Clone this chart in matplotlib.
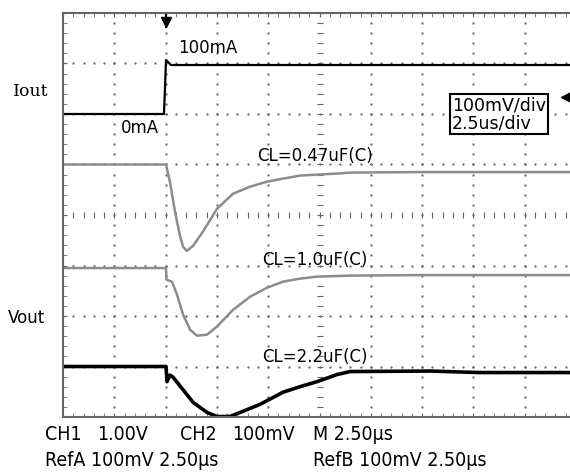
import numpy as np
import matplotlib
matplotlib.use("Agg")
import matplotlib.pyplot as plt

# Scope settings: 2.5 us/div horizontally, 100 mV/div (100 mA/div) vertically
t_per_div = 2.5
mv_per_div = 100

# Iout step (mA)
t_iout = [0, 4.92, 4.97, 5.02, 5.12, 5.26, 25]
iout_ma = [0, 0, 51, 107, 103, 97, 97]

# Vout deviation (mV) for three output capacitors
t_047 = [0, 5.02, 5.21, 5.46, 5.70, 5.85, 6.04, 6.34, 6.82, 7.50, 8.28, 9.11,
         9.94, 10.72, 11.55, 12.38, 13.35, 13.99, 17.4, 25]
v_047 = [0, 0, -34, -94, -141, -163, -171, -161, -133, -88, -58, -44,
         -34, -28, -22, -20, -18, -16, -15, -15]

t_10 = [0, 5.02, 5.04, 5.31, 5.56, 5.85, 6.19, 6.53, 7.02, 7.50, 8.28, 9.11,
        9.94, 10.72, 11.55, 12.38, 13.99, 17.4, 25]
v_10 = [0, 0, -23, -27, -53, -92, -122, -134, -132, -116, -83, -57,
        -39, -27, -21, -17, -15, -14, -14]

t_22 = [0, 5.02, 5.07, 5.21, 5.36, 5.85, 6.34, 7.02, 7.50, 8.14, 8.63, 9.60,
        10.72, 11.55, 12.38, 13.35, 13.99, 17.9, 20.3, 25]
v_22 = [0, 0, -30, -17, -21, -46, -71, -91, -99, -99, -91, -75,
        -51, -40, -30, -16, -10, -9, -12, -12]

cap_labels = ["CL=0.47uF(C)", "CL=1.0uF(C)", "CL=2.2uF(C)"]
bottom_row1 = ["CH1", "1.00V", "CH2", "100mV", "M 2.50\u00b5s"]
bottom_row2 = ["RefA 100mV 2.50\u00b5s", "RefB 100mV 2.50\u00b5s"]

W, H = 570, 472
fig = plt.figure(figsize=(W / 100, H / 100), dpi=100)
ax = fig.add_axes([63 / W, 55 / H, 513 / W, 404 / H])
ax.set_xlim(0, 10 * t_per_div)
ax.set_ylim(0, 8)

# graticule: dotted division lines
sub = np.arange(0, 8.01, 0.2)
subx = np.arange(0, 25.01, 0.5)
for i in range(1, 10):
    if i == 5:
        continue
    ax.plot(np.full_like(sub, i * t_per_div), sub, ls="none", marker=".", ms=1.3, color="#666")
for j in range(1, 8):
    if j == 4:
        continue
    ax.plot(subx, np.full_like(subx, j), ls="none", marker=".", ms=1.3, color="#666")
# centre axes with fine ticks
ax.plot(subx, np.full_like(subx, 4), ls="none", marker="|", ms=4, mew=0.8, color="#666")
ax.plot(np.full_like(sub, 12.5), sub, ls="none", marker="_", ms=4, mew=0.8, color="#666")

for s in ax.spines.values():
    s.set_color("#666")
    s.set_linewidth(1.5)
ax.set_xticks(subx, minor=True)
ax.set_yticks(sub, minor=True)
ax.set_xticks(np.arange(0, 25.01, 2.5))
ax.set_yticks(range(9))
ax.tick_params(which="both", direction="in", length=3, color="#666",
               top=True, right=True, labelbottom=False, labelleft=False)

# traces
ax.plot(t_iout, 6 + np.array(iout_ma) / mv_per_div, color="black", lw=1.6)
ax.plot(t_047, 5.0 + np.array(v_047) / mv_per_div, color="#8c8c8c", lw=1.8)
ax.plot(t_10, 2.95 + np.array(v_10) / mv_per_div, color="#8c8c8c", lw=1.8)
ax.plot(t_22, 1.0 + np.array(v_22) / mv_per_div, color="black", lw=2.6)

# trigger and level markers
ax.plot([5.02, 5.02], [8, 7.72], color="black", lw=1.5, clip_on=False)
ax.plot([5.02], [7.83], marker="v", ms=7, color="black", clip_on=False)
ax.plot([24.5], [6.34], marker="<", ms=7, color="black", clip_on=False)

lab = dict(fontsize=12, va="center", ha="left", family="DejaVu Sans")
ax.text(5.6, 7.31, "100mA", **lab)
ax.text(2.83, 5.72, "0mA", **lab)
ax.text(9.45, 5.17, cap_labels[0], **lab)
ax.text(9.70, 3.11, cap_labels[1], **lab)
ax.text(9.70, 1.19, cap_labels[2], **lab)

fig.text(13 / W, 1 - 92 / H, "Iout", fontsize=12.5, family="DejaVu Serif", va="center")
fig.text(8 / W, 1 - 318 / H, "Vout", fontsize=12, family="DejaVu Sans", va="center")

fig.text(452 / W, 1 - 114 / H, "100mV/div\n2.5us/div", fontsize=12.5, va="center",
         linespacing=1.0, family="DejaVu Sans",
         bbox=dict(boxstyle="square,pad=0.12", fc="white", ec="black", lw=1.5))

bot = dict(fontsize=14, family="DejaVu Sans", fontstretch="condensed", va="center")
for x, s in zip([45, 97, 180, 232, 313], bottom_row1):
    fig.text(x / W, 1 - 434 / H, s, **bot)
for x, s in zip([45, 313], bottom_row2):
    fig.text(x / W, 1 - 460 / H, s, **bot)

fig.savefig("out.png", dpi=100, facecolor="white")
